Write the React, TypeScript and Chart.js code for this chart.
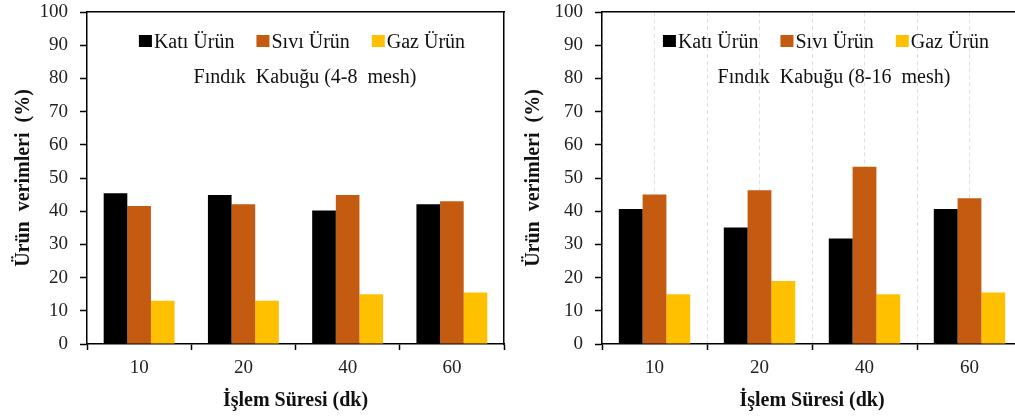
import React, { useEffect, useRef } from 'react';
import { Chart, registerables } from 'chart.js';

Chart.register(...registerables);

// ---------- data ----------
const categories = ['10', '20', '40', '60'];
const seriesLabels = ['Katı Ürün', 'Sıvı Ürün', 'Gaz Ürün'];
const seriesColors = ['#000000', '#C55A11', '#FFC000'];

const kati48 = [45.4, 44.9, 40.2, 42.1];
const sivi48 = [41.6, 42.1, 44.9, 43.0];
const gaz48 = [13.0, 13.0, 15.0, 15.5];

const kati816 = [40.7, 35.1, 31.8, 40.7];
const sivi816 = [45.0, 46.3, 53.4, 43.9];
const gaz816 = [15.0, 19.0, 15.0, 15.5];

const yMin = 0;
const yMax = 100;
const yStep = 10;

const xTitle = 'İşlem Süresi (dk)';
const yTitle = 'Ürün  verimleri  (%)';
const subtitle48 = 'Fındık  Kabuğu (4-8  mesh)';
const subtitle816 = 'Fındık  Kabuğu (8-16  mesh)';

const FONT = '"Liberation Serif", "Times New Roman", serif';

const overlayPlugin = {
  id: 'overlay',
  afterDraw(chart: any, _args: any, opts: any) {
    const { ctx, chartArea } = chart;
    ctx.save();
    ctx.fillStyle = '#111';
    ctx.textBaseline = 'alphabetic';
    ctx.textAlign = 'left';
    ctx.font = `${opts.fontSize}px ${FONT}`;
    const box = 13;
    const gap = 2;
    const spacing = 22;
    const items = chart.data.datasets.map((ds: any) => ({ text: ds.label, color: ds.backgroundColor }));
    const widths = items.map((it: any) => box + gap + ctx.measureText(it.text).width);
    const total = widths.reduce((a: number, b: number) => a + b, 0) + spacing * (items.length - 1);
    let x = chartArea.left + opts.legendCenter - total / 2;
    const base = chartArea.top + opts.legendBase;
    items.forEach((it: any, i: number) => {
      ctx.fillStyle = it.color;
      ctx.fillRect(x, base - 13, box, box - 1);
      ctx.fillStyle = '#111';
      ctx.fillText(it.text, x + box + gap, base);
      x += widths[i] + spacing;
    });
    ctx.textAlign = 'center';
    ctx.fillText(opts.subtitle, chartArea.left + opts.subtitleCenter, chartArea.top + opts.subtitleBase);
    ctx.restore();
  },
};

type PanelProps = {
  width: number;
  yAxisWidth: number;
  padRight: number;
  kati: number[];
  sivi: number[];
  gaz: number[];
  subtitle: string;
  showGrid: boolean;
  legendCenter: number;
  subtitleCenter: number;
};

function Panel(p: PanelProps) {
  const ref = useRef<HTMLCanvasElement | null>(null);
  useEffect(() => {
    if (!ref.current) return;
    const values = [p.kati, p.sivi, p.gaz];
    const chart = new Chart(ref.current, {
      type: 'bar',
      data: {
        labels: categories,
        datasets: seriesLabels.map((label, i) => ({
          label,
          data: values[i],
          backgroundColor: seriesColors[i],
          borderWidth: 0,
          categoryPercentage: 0.68,
          barPercentage: 1.0,
        })),
      },
      options: {
        responsive: false,
        animation: false,
        devicePixelRatio: 1,
        layout: { padding: { left: 0, top: 12, right: p.padRight, bottom: 0 } },
        plugins: {
          legend: { display: false },
          tooltip: { enabled: false },
          title: { display: false },
          overlay: {
            fontSize: 20,
            legendCenter: p.legendCenter,
            legendBase: 36,
            subtitle: p.subtitle,
            subtitleCenter: p.subtitleCenter,
            subtitleBase: 71,
          },
        } as any,
        scales: {
          x: {
            type: 'category',
            position: 'bottom',
            offset: true,
            grid: {
              offset: true,
              display: true,
              drawOnChartArea: p.showGrid,
              color: '#e0e0e0',
              lineWidth: 1,
              tickLength: 6,
              tickColor: '#000',
              tickWidth: 1.5,
            },
            border: { display: true, color: '#000', width: 1.5, dash: [4, 3] },
            ticks: { font: { family: FONT, size: 19 }, color: '#222', padding: 7 },
            title: {
              display: true,
              text: xTitle,
              font: { family: FONT, size: 20, weight: 'bold' },
              color: '#111',
              padding: { top: 0, bottom: 3 },
            },
            afterFit: (s: any) => {
              s.height = 72;
              s.paddingLeft = 0;
              s.paddingRight = 0;
            },
          },
          xTop: {
            type: 'category',
            position: 'top',
            offset: true,
            ticks: { display: false },
            grid: {
              offset: false,
              display: p.showGrid,
              drawOnChartArea: true,
              drawTicks: false,
              color: '#e0e0e0',
              lineWidth: 1,
            },
            border: { display: true, color: '#000', width: 1.5, dash: [4, 3] },
            afterFit: (s: any) => {
              s.height = 0;
              s.paddingLeft = 0;
              s.paddingRight = 0;
            },
          },
          y: {
            type: 'linear',
            position: 'left',
            min: yMin,
            max: yMax,
            ticks: { stepSize: yStep, font: { family: FONT, size: 19 }, color: '#222', padding: 12 },
            grid: {
              drawOnChartArea: false,
              tickLength: 7,
              tickColor: '#000',
              tickWidth: 1.5,
            },
            border: { display: true, color: '#000', width: 1.5 },
            title: {
              display: true,
              text: yTitle,
              font: { family: FONT, size: 20, weight: 'bold' },
              color: '#111',
              padding: { top: 12, bottom: 0 },
            },
            afterFit: (s: any) => {
              s.width = p.yAxisWidth;
              s.paddingTop = 0;
              s.paddingBottom = 0;
            },
          },
          yRight: {
            type: 'linear',
            position: 'right',
            min: yMin,
            max: yMax,
            ticks: { display: false },
            grid: { drawOnChartArea: false, drawTicks: false },
            border: { display: true, color: '#000', width: 1.5 },
            afterFit: (s: any) => {
              s.width = 0;
              s.paddingTop = 0;
              s.paddingBottom = 0;
            },
          },
        },
      } as any,
      plugins: [overlayPlugin],
    });
    return () => chart.destroy();
  }, []);
  return (
    <canvas
      ref={ref}
      width={p.width}
      height={416}
      style={{ width: p.width, height: 416, display: 'block' }}
    />
  );
}

export default function App() {
  return (
    <div
      style={{
        position: 'fixed',
        left: 0,
        top: 0,
        width: 1015,
        height: 416,
        overflow: 'hidden',
        background: '#fff',
      }}
    >
      <div style={{ position: 'absolute', left: 0, top: 0 }}>
        <Panel
          width={510}
          yAxisWidth={87}
          padRight={6}
          kati={kati48}
          sivi={sivi48}
          gaz={gaz48}
          subtitle={subtitle48}
          showGrid={false}
          legendCenter={215}
          subtitleCenter={218}
        />
      </div>
      <div style={{ position: 'absolute', left: 510, top: 0 }}>
        <Panel
          width={520}
          yAxisWidth={92}
          padRight={8}
          kati={kati816}
          sivi={sivi816}
          gaz={gaz816}
          subtitle={subtitle816}
          showGrid={true}
          legendCenter={224}
          subtitleCenter={232}
        />
      </div>
    </div>
  );
}
